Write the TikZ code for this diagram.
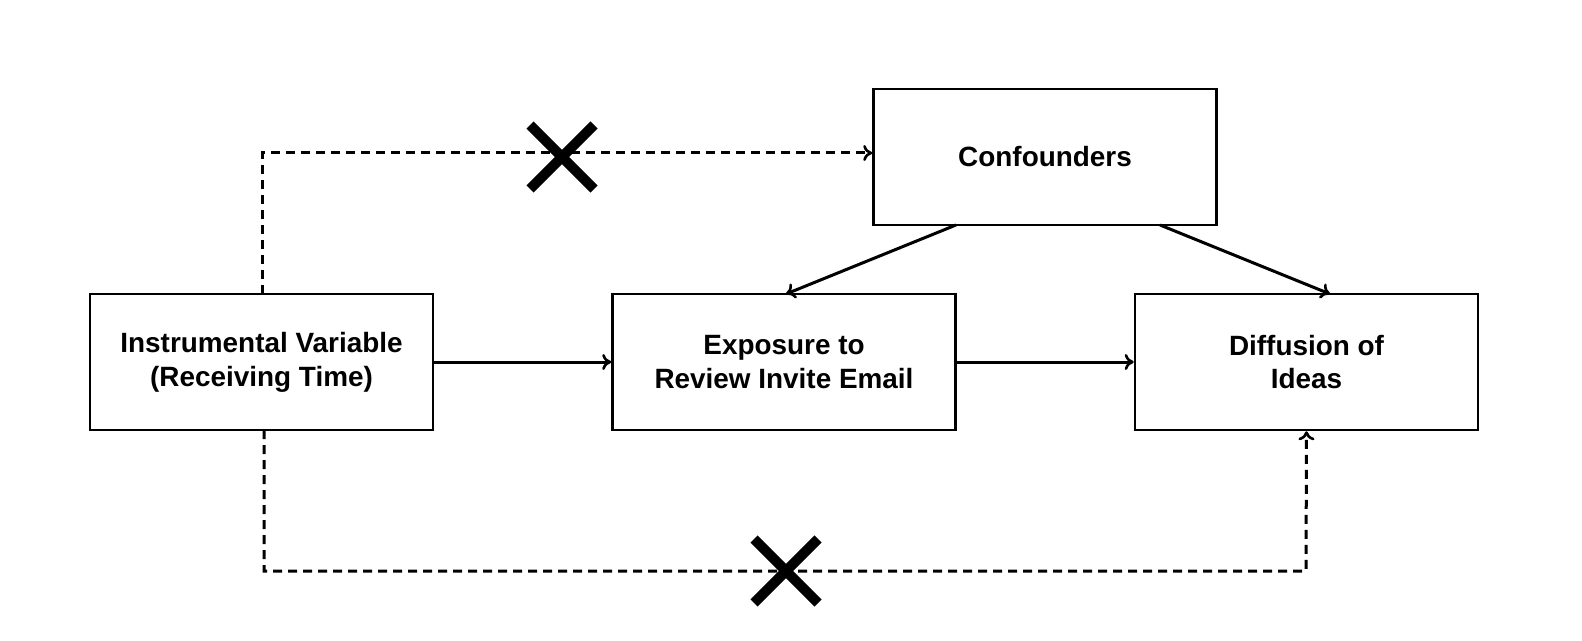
\documentclass[tikz,border=0pt]{standalone}
\usepackage{fontspec}
\setmainfont{Liberation Sans}
\usetikzlibrary{arrows.meta}
\begin{document}
\begin{tikzpicture}[x=1bp,y=-1bp,
  box/.style={draw,line width=2.6bp,minimum width=343bp,minimum height=136bp,align=center,font=\fontsize{28}{34}\selectfont\bfseries,inner sep=0pt},
  conn/.style={line width=3bp,-{To[length=9bp,width=16bp,line width=2.6bp]}},
  dconn/.style={conn,dash pattern=on 9bp off 6bp},
  cross/.style={line width=10bp}]
\useasboundingbox (0,0) rectangle (1582,641);
\node[box] (conf) at (1045,157) {Confounders};
\node[box] (iv) at (261.5,362) {Instrumental Variable\\(Receiving Time)};
\node[box] (exp) at (784,362) {Exposure to\\Review Invite Email};
\node[box] (dif) at (1306.5,362) {Diffusion of\\Ideas};
\draw[conn] (iv) -- (exp);
\draw[conn] (exp) -- (dif);
\draw[conn] (956,225) -- (786,294);
\draw[conn] (1160,225) -- (1330,294);
\draw[dconn] (262,294) |- (conf.west |- 0,153);
\draw[dconn] (264,430) |- (1306,571) -- (dif.south);
\draw[cross] (530,125) -- (594,189) (594,125) -- (530,189);
\draw[cross] (754,539) -- (818,603) (818,539) -- (754,603);
\end{tikzpicture}
\end{document}
